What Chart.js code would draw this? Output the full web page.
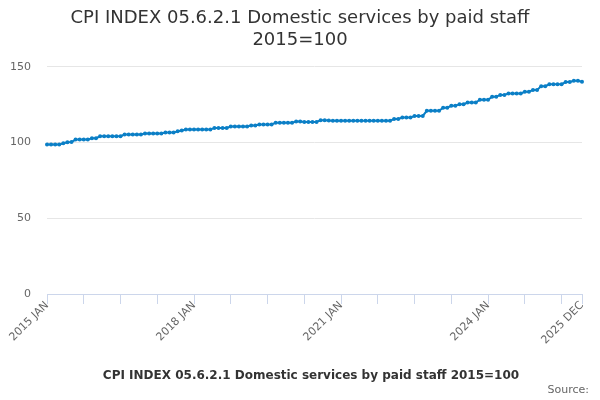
<!DOCTYPE html>
<html>
<head>
<meta charset="utf-8">
<script src="https://cdn.jsdelivr.net/npm/chart.js@4/dist/chart.umd.min.js"></script>
<style>
  html, body { margin: 0; padding: 0; background: #fff; }
  #wrap { width: 600px; height: 400px; }
</style>
</head>
<body>
<div id="wrap"><canvas id="chartCanvas"></canvas></div>
<script>
// Categories: monthly, 2015 JAN .. 2025 DEC
var years = [2015, 2016, 2017, 2018, 2019, 2020, 2021, 2022, 2023, 2024, 2025];
var monthNames = ["JAN","FEB","MAR","APR","MAY","JUN","JUL","AUG","SEP","OCT","NOV","DEC"];

// Index values, one row per year
var cpi2015 = [98.7, 98.7, 98.7, 98.7, 99.6, 100.3, 100.4, 102.0, 102.0, 102.0, 102.0, 102.9];
var cpi2016 = [102.9, 104.2, 104.2, 104.2, 104.2, 104.2, 104.2, 105.3, 105.3, 105.3, 105.3, 105.3];
var cpi2017 = [106.0, 106.0, 106.0, 106.0, 106.0, 106.6, 106.6, 106.6, 107.5, 108.0, 108.6, 108.6];
var cpi2018 = [108.6, 108.6, 108.6, 108.6, 108.6, 109.7, 109.7, 109.7, 109.7, 110.6, 110.6, 110.6];
var cpi2019 = [110.6, 110.6, 111.3, 111.3, 112.0, 112.0, 112.0, 112.0, 113.2, 113.2, 113.2, 113.2];
var cpi2020 = [113.2, 114.0, 114.0, 113.6, 113.6, 113.6, 113.6, 114.8, 114.8, 114.6, 114.5, 114.5];
var cpi2021 = [114.5, 114.5, 114.5, 114.5, 114.5, 114.5, 114.5, 114.5, 114.5, 114.5, 114.5, 114.5];
var cpi2022 = [114.5, 115.6, 115.6, 116.6, 116.6, 116.6, 117.6, 117.6, 117.6, 121.0, 121.0, 121.0];
var cpi2023 = [121.0, 123.1, 123.1, 124.3, 124.3, 125.4, 125.4, 126.5, 126.5, 126.5, 128.3, 128.3];
var cpi2024 = [128.3, 130.3, 130.3, 131.5, 131.5, 132.5, 132.5, 132.5, 132.5, 133.6, 133.6, 134.7];
var cpi2025 = [134.7, 137.3, 137.3, 138.6, 138.6, 138.6, 138.6, 140.0, 140.0, 140.9, 140.9, 140.2];

// Tick marks every 9 months, labels only on some of them
var tickMonths = [0, 9, 18, 27, 36, 45, 54, 63, 72, 81, 90, 99, 108, 117, 126, 131];
var labelMonths = [0, 36, 72, 108, 131];
var yTicks = [0, 50, 100, 150];

var seriesName = "CPI INDEX 05.6.2.1 Domestic services by paid staff 2015=100";
var lineColor = "#0b7fc6";

var labels = [];
for (var y = 0; y < years.length; y++) {
	for (var m = 0; m < 12; m++) {
		labels.push(years[y] + " " + monthNames[m]);
	}
}
var values = [].concat(cpi2015, cpi2016, cpi2017, cpi2018, cpi2019, cpi2020,
	cpi2021, cpi2022, cpi2023, cpi2024, cpi2025);

// "Source:" in the bottom right corner
var sourcePlugin = {
	id: "sourceText",
	afterDraw: function(chart) {
		var ctx = chart.ctx;
		ctx.save();
		ctx.font = "11px 'DejaVu Sans'";
		ctx.fillStyle = "#666666";
		ctx.textAlign = "right";
		ctx.textBaseline = "middle";
		ctx.fillText("Source:", 589, 390);
		ctx.restore();
	}
};

var chartCtx = document.getElementById("chartCanvas").getContext("2d");
var chart = new Chart(chartCtx, {
	type: "line",
	data: {
		labels: labels,
		datasets: [{
			label: seriesName,
			data: values,
			borderColor: lineColor,
			backgroundColor: lineColor,
			borderWidth: 2,
			pointRadius: 2,
			pointHoverRadius: 3,
			pointBorderWidth: 0,
			tension: 0,
			fill: false
		}]
	},
	options: {
		responsive: true,
		maintainAspectRatio: false,
		animation: false,
		layout: { padding: { left: 0, right: 0, top: 0, bottom: 8 } },
		plugins: {
			title: {
				display: true,
				text: ["CPI INDEX 05.6.2.1 Domestic services by paid staff", "2015=100"],
				color: "#333333",
				font: { family: "'DejaVu Sans'", size: 18, weight: "normal", lineHeight: 1.22 },
				padding: { top: 7, bottom: 16 }
			},
			legend: {
				position: "bottom",
				labels: {
					usePointStyle: true,
					pointStyle: "line",
					pointStyleWidth: 16,
					boxHeight: 12,
					color: "#333333",
					font: { family: "'DejaVu Sans'", size: 12, weight: "bold" },
					padding: 4
				}
			},
			tooltip: { enabled: false }
		},
		scales: {
			x: {
				type: "category",
				grid: {
					drawOnChartArea: false,
					drawTicks: true,
					tickLength: 10,
					color: "#ccd6eb"
				},
				border: { display: true, color: "#ccd6eb" },
				afterBuildTicks: function(axis) {
					axis.ticks = tickMonths.map(function(i) { return { value: i }; });
				},
				afterFit: function(axis) { axis.height = 72; },
				ticks: {
					autoSkip: false,
					maxRotation: 45,
					minRotation: 45,
					color: "#666666",
					font: { family: "'DejaVu Sans'", size: 11 },
					padding: -5,
					callback: function(v) {
						return labelMonths.indexOf(v) >= 0 ? labels[v] : "";
					}
				}
			},
			y: {
				min: 0,
				max: 150,
				afterBuildTicks: function(axis) {
					axis.ticks = yTicks.map(function(v) { return { value: v }; });
				},
				afterFit: function(axis) { axis.width = 47; },
				grid: { color: "#e6e6e6", drawTicks: false },
				border: { display: false },
				ticks: {
					color: "#666666",
					font: { family: "'DejaVu Sans'", size: 11 },
					padding: 16
				}
			},
			// empty right-hand axis, only keeps a margin on the right
			yRight: {
				position: "right",
				min: 0,
				max: 150,
				afterFit: function(axis) { axis.width = 18; },
				grid: { display: false },
				border: { display: false },
				ticks: { display: false }
			}
		}
	},
	plugins: [sourcePlugin]
});
</script>
</body>
</html>
